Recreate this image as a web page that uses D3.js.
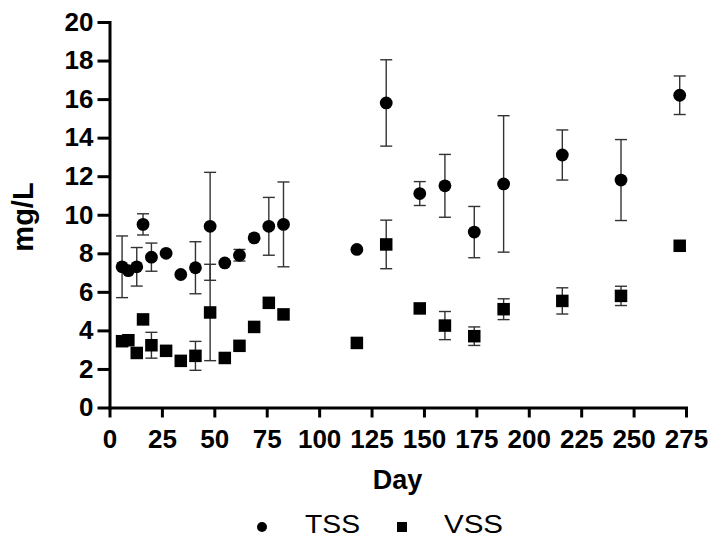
<!DOCTYPE html>
<html>
<head>
<meta charset="utf-8">
<script src="https://cdn.jsdelivr.net/npm/d3@7"></script>
<style>
  html, body { margin: 0; padding: 0; background: #fff; }
  svg { display: block; }
  text { font-family: "Liberation Sans", Arial, Helvetica, sans-serif; fill: #000; }
</style>
</head>
<body>
<svg id="chart" width="711" height="538"></svg>
<script>
// ---- data ----
const days = [6, 9, 13, 16, 20, 27, 34, 41, 48, 55, 62, 69, 76, 83, 118, 132, 148, 160, 174, 188, 216, 244, 272];
const tssMean = [7.3, 7.1, 7.3, 9.5, 7.8, 8.0, 6.9, 7.25, 9.4, 7.5, 7.9, 8.8, 9.4, 9.5, 8.2, 15.8, 11.1, 11.5, 9.1, 11.6, 13.1, 11.8, 16.2];
const tssSd   = [1.6, 0, 1.0, 0.55, 0.73, 0, 0, 1.35, 2.8, 0, 0.3, 0, 1.5, 2.2, 0, 2.24, 0.62, 1.63, 1.33, 3.54, 1.3, 2.1, 1.0];
const vssMean = [3.44, 3.49, 2.83, 4.57, 3.23, 2.94, 2.42, 2.68, 4.93, 2.57, 3.2, 4.18, 5.43, 4.83, 3.35, 8.46, 5.14, 4.25, 3.7, 5.1, 5.53, 5.79, 8.39];
const vssSd   = [0, 0, 0, 0, 0.67, 0, 0, 0.75, 2.5, 0, 0, 0, 0, 0, 0, 1.26, 0, 0.73, 0.48, 0.54, 0.68, 0.5, 0];
const xTicks = [0, 25, 50, 75, 100, 125, 150, 175, 200, 225, 250, 275];
const yTicks = [0, 2, 4, 6, 8, 10, 12, 14, 16, 18, 20];
const seriesNames = ["TSS", "VSS"];
const xTitle = "Day";
const yTitle = "mg/L";

// ---- layout ----
const svg = d3.select("#chart");
const x = d3.scaleLinear().domain([0, 275]).range([109.5, 686]);
const y = d3.scaleLinear().domain([0, 20]).range([407.5, 22]);

// error bars
function drawErr(means, sds) {
  const g = svg.append("g");
  days.forEach((d, i) => {
    if (!sds[i]) return;
    const cx = x(d), top = y(means[i] + sds[i]), bot = y(means[i] - sds[i]);
    g.append("line").attr("x1", cx).attr("x2", cx).attr("y1", top).attr("y2", bot);
    g.append("line").attr("x1", cx - 6).attr("x2", cx + 6).attr("y1", top).attr("y2", top);
    g.append("line").attr("x1", cx - 6).attr("x2", cx + 6).attr("y1", bot).attr("y2", bot);
  });
  g.selectAll("line").attr("stroke", "#333").attr("stroke-width", 1.4);
}
drawErr(tssMean, tssSd);
drawErr(vssMean, vssSd);

// markers
svg.append("g").selectAll("circle").data(days).join("circle")
  .attr("cx", d => x(d)).attr("cy", (d, i) => y(tssMean[i])).attr("r", 6.4).attr("fill", "#000");
const sq = 12.5;
svg.append("g").selectAll("rect").data(days).join("rect")
  .attr("x", d => x(d) - sq / 2).attr("y", (d, i) => y(vssMean[i]) - sq / 2)
  .attr("width", sq).attr("height", sq).attr("fill", "#000");

// axes
const xAxis = svg.append("g").attr("transform", "translate(0,407.5)")
  .call(d3.axisBottom(x).tickValues(xTicks).tickSize(10).tickSizeOuter(0).tickPadding(12));
const yAxis = svg.append("g").attr("transform", "translate(109.5,0)")
  .call(d3.axisLeft(y).tickValues(yTicks).tickSize(12).tickSizeOuter(0).tickPadding(4));
[xAxis, yAxis].forEach(a => {
  a.select(".domain").attr("stroke", "#000").attr("stroke-width", 3).attr("stroke-linecap", "square");
  a.selectAll(".tick line").attr("stroke", "#000").attr("stroke-width", 3);
  a.selectAll(".tick text").attr("font-size", 26).attr("font-weight", "bold")
    .attr("font-family", '"Liberation Sans", Arial, sans-serif').attr("fill", "#000");
});

// titles
svg.append("text").attr("x", 397.5).attr("y", 489).attr("text-anchor", "middle")
  .attr("font-size", 27).attr("font-weight", "bold").text(xTitle);
svg.append("text").attr("transform", "translate(33,217) rotate(-90)").attr("text-anchor", "middle")
  .attr("font-size", 29).attr("font-weight", "bold").text(yTitle);

// legend
const lg = svg.append("g");
lg.append("circle").attr("cx", 262).attr("cy", 527).attr("r", 5).attr("fill", "#000");
lg.append("text").attr("x", 305).attr("y", 532.5).attr("font-size", 25)
  .attr("textLength", 55).attr("lengthAdjust", "spacingAndGlyphs").text(seriesNames[0]);
lg.append("rect").attr("x", 397).attr("y", 522).attr("width", 10).attr("height", 10).attr("fill", "#000");
lg.append("text").attr("x", 444).attr("y", 532.5).attr("font-size", 25)
  .attr("textLength", 59).attr("lengthAdjust", "spacingAndGlyphs").text(seriesNames[1]);
</script>
</body>
</html>
